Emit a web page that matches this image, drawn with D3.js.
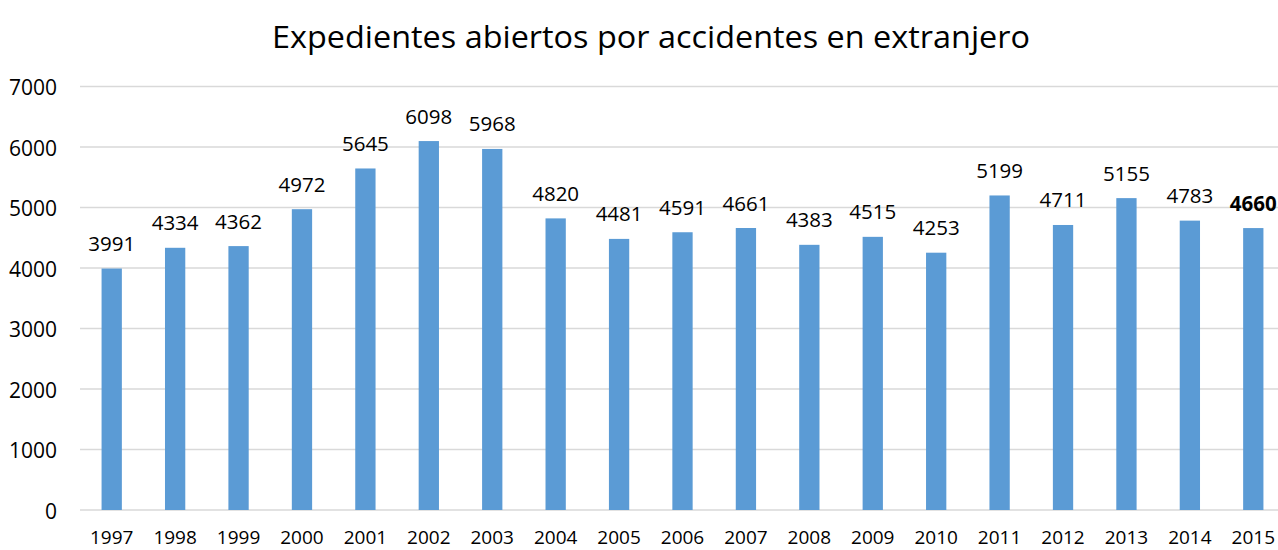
<!DOCTYPE html>
<html><head><meta charset="utf-8">
<script src="https://cdn.jsdelivr.net/npm/d3@7"></script>
<style>body{margin:0;background:#fff}svg{display:block}text{font-family:"Open Sans",sans-serif;fill:#000}</style>
</head><body><svg id="c" width="1278" height="550"></svg>
<script>
const years = ["1997","1998","1999","2000","2001","2002","2003","2004","2005","2006","2007","2008","2009","2010","2011","2012","2013","2014","2015"];
const values = [3991,4334,4362,4972,5645,6098,5968,4820,4481,4591,4661,4383,4515,4253,5199,4711,5155,4783,4660];
const yTicks = [0,1000,2000,3000,4000,5000,6000,7000];
const title = "Expedientes abiertos por accidentes en extranjero";

const svg = d3.select("#c");
const x = d3.scaleBand().domain(years).range([80,1285]).paddingInner(0.68).paddingOuter(0.34);
const y = d3.scaleLinear().domain([0,7000]).range([510,86.5]);

svg.append("text").attr("x",651).attr("y",48).attr("text-anchor","middle")
  .style("font-size","31px").attr("textLength",758).attr("lengthAdjust","spacingAndGlyphs").text(title);

svg.append("g").selectAll("line").data(yTicks).join("line")
  .attr("x1",80).attr("x2",1278).attr("y1",d=>y(d)).attr("y2",d=>y(d))
  .attr("stroke","#d9d9d9").attr("stroke-width",1.5);

svg.append("g").selectAll("text").data(yTicks).join("text")
  .attr("x",57).attr("y",d=>y(d)+8.5).attr("text-anchor","end").style("font-size","21px").text(d=>d);

svg.append("g").selectAll("rect").data(values).join("rect")
  .attr("x",(d,i)=>x(years[i])).attr("width",x.bandwidth())
  .attr("y",d=>y(d)).attr("height",d=>y(0)-y(d)).attr("fill","#5b9bd5");

svg.append("g").selectAll("text").data(values).join("text")
  .attr("x",(d,i)=>x(years[i])+x.bandwidth()/2).attr("y",d=>y(d)-17.5)
  .attr("text-anchor","middle").style("font-size","20.5px")
  .style("font-weight",(d,i)=>i===values.length-1?"bold":"normal").text(d=>d);

svg.append("g").selectAll("text").data(years).join("text")
  .attr("x",d=>x(d)+x.bandwidth()/2).attr("y",544).attr("text-anchor","middle")
  .style("font-size","19px").text(d=>d);
</script></body></html>
